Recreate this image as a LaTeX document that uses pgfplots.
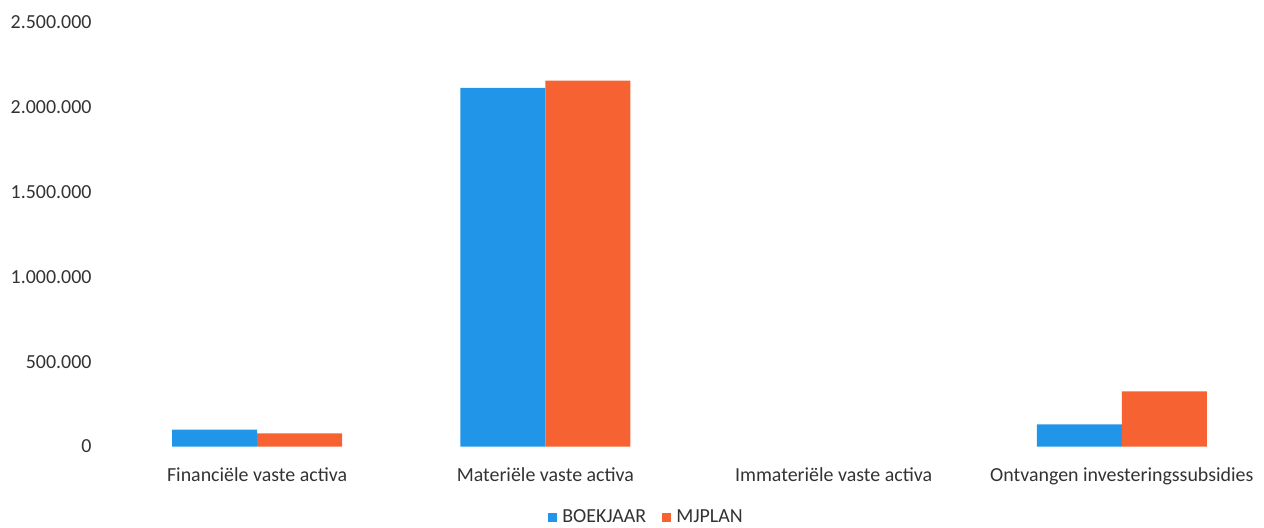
\documentclass[border=0pt]{standalone}
\usepackage{pgfplots}
\pgfplotsset{compat=1.18}
\usepackage{fontspec}
\setmainfont{Carlito}
\definecolor{boek}{RGB}{33,150,232}
\definecolor{mjp}{RGB}{246,98,50}
\begin{document}
\begin{tikzpicture}
\path[use as bounding box] (-113bp,-81.5bp) rectangle (1151bp,446.5bp);
\begin{axis}[
  at={(0,0)}, anchor=south west,
  scale only axis,
  width=1153bp, height=424bp,
  ybar=0pt, bar width=85bp,
  xmin=-0.5, xmax=3.5,
  ymin=0, ymax=2500000,
  xtick={0,1,2,3},
  xticklabels={Financiële vaste activa, Materiële vaste activa, Immateriële vaste activa, Ontvangen investeringssubsidies},
  ytick={0,500000,1000000,1500000,2000000,2500000},
  scaled y ticks=false,
  /pgf/number format/.cd, fixed, 1000 sep={.}, assume math mode=true,
  /pgfplots/.cd,
  axis line style={draw=none},
  major tick length=0pt,
  tick label style={font=\fontsize{20}{22}\selectfont, text=black!80},
  yticklabel style={xshift=-18bp},
  xticklabel style={yshift=-18bp},
  legend style={at={(0.5,-70.5bp)}, anchor=center, xshift=-43bp, draw=none, legend columns=2,
    font=\fontsize{20}{22}\selectfont, text=black!80,
    /tikz/every odd column/.append style={column sep=3bp},
    /tikz/every even column/.append style={column sep=14bp}},
  legend image code/.code={\fill[#1] (0bp,-4.5bp) rectangle (9bp,4.5bp);},
]
\addplot[fill=boek, draw=none] coordinates {(0,100000) (1,2115000) (3,130000)};
\addplot[fill=mjp, draw=none] coordinates {(0,77000) (1,2157000) (3,325000)};
\legend{BOEKJAAR, MJPLAN}
\end{axis}
\end{tikzpicture}
\end{document}
